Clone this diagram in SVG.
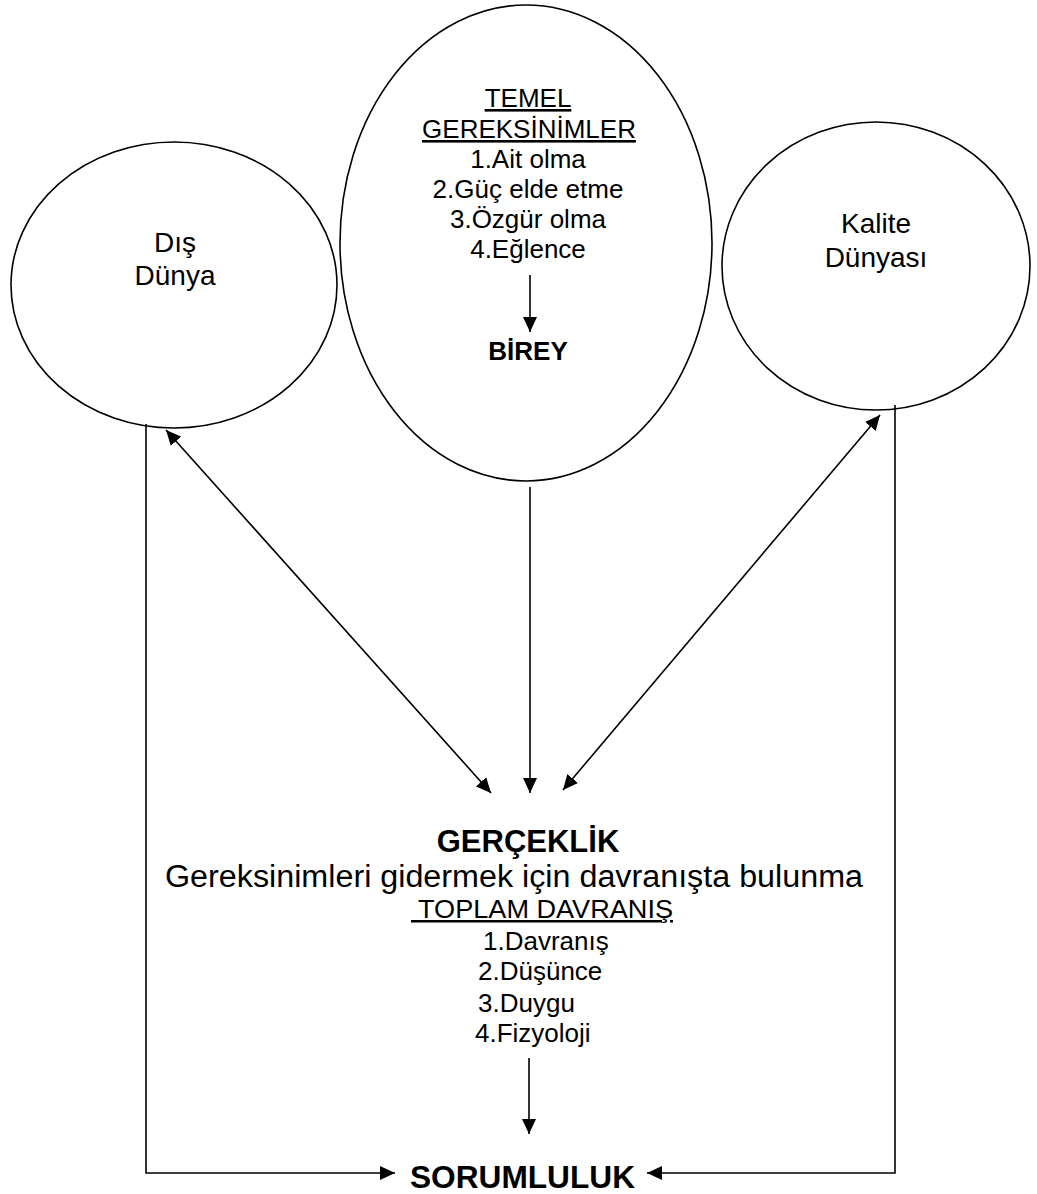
<svg xmlns="http://www.w3.org/2000/svg" width="1037" height="1194" viewBox="0 0 1037 1194">
<style>
.n{fill:#fff;stroke:#000;stroke-width:1.6}
text{font-family:"Liberation Sans",Arial,sans-serif;fill:#000}
.t{font-size:26px;text-anchor:middle}
.s{font-size:28px;text-anchor:middle}
.b{font-weight:bold}
.c{stroke:#000;stroke-width:1.6;fill:none}
</style>
<defs>
<marker id="ah" markerUnits="userSpaceOnUse" markerWidth="16" markerHeight="14" refX="15" refY="7" orient="auto-start-reverse" viewBox="0 0 16 14">
<path d="M0,0 L15,7 L0,14 z" fill="#000"/>
</marker>
</defs>
<rect width="1037" height="1194" fill="#fff"/>
<g id="dis-dunya">
<ellipse class="n" cx="174" cy="285" rx="163" ry="143"/>
<text class="s" x="175" y="252">Dış</text>
<text class="s" x="175" y="285">Dünya</text>
</g>
<g id="kalite-dunyasi">
<ellipse class="n" cx="876" cy="266" rx="154" ry="144"/>
<text class="s" x="876" y="233">Kalite</text>
<text class="s" x="876" y="267">Dünyası</text>
</g>
<g id="birey">
<ellipse class="n" cx="526" cy="243" rx="186" ry="238"/>
<text class="t" x="528" y="107" text-decoration="underline">TEMEL</text>
<text class="t" x="529" y="138" text-decoration="underline">GEREKSİNİMLER</text>
<text class="t" x="528" y="168">1.Ait olma</text>
<text class="t" x="528" y="198">2.Güç elde etme</text>
<text class="t" x="528" y="228">3.Özgür olma</text>
<text class="t" x="528" y="258">4.Eğlence</text>
<line class="c" x1="530" y1="275" x2="530" y2="332" marker-end="url(#ah)"/>
<text class="t b" x="528" y="360" font-size="27">BİREY</text>
</g>
<g id="gerceklik">
<text class="b" x="528" y="852" font-size="31" text-anchor="middle">GERÇEKLİK</text>
<text x="165" y="887" font-size="31" textLength="698" lengthAdjust="spacingAndGlyphs">Gereksinimleri gidermek için davranışta bulunma</text>
<text x="411" y="918" font-size="25" xml:space="preserve" text-decoration="underline" textLength="262" lengthAdjust="spacingAndGlyphs"> TOPLAM DAVRANIŞ</text>
<text x="483" y="950" font-size="26">1.Davranış</text>
<text x="478" y="980" font-size="26">2.Düşünce</text>
<text x="478" y="1012" font-size="26">3.Duygu</text>
<text x="475" y="1042" font-size="26">4.Fizyoloji</text>
</g>
<g id="sorumluluk">
<text class="b" x="410" y="1188" font-size="31" textLength="225" lengthAdjust="spacingAndGlyphs">SORUMLULUK</text>
</g>
<g id="connectors">
<line class="c" x1="530" y1="487" x2="530" y2="793" marker-end="url(#ah)"/>
<line class="c" x1="166" y1="430" x2="491" y2="793" marker-start="url(#ah)" marker-end="url(#ah)"/>
<line class="c" x1="880" y1="415" x2="563" y2="790" marker-start="url(#ah)" marker-end="url(#ah)"/>
<line class="c" x1="529" y1="1058" x2="529" y2="1134" marker-end="url(#ah)"/>
<polyline class="c" points="146,424 146,1173 395,1173" marker-end="url(#ah)"/>
<polyline class="c" points="895,405 895,1173 647,1173" marker-end="url(#ah)"/>
</g>
</svg>
